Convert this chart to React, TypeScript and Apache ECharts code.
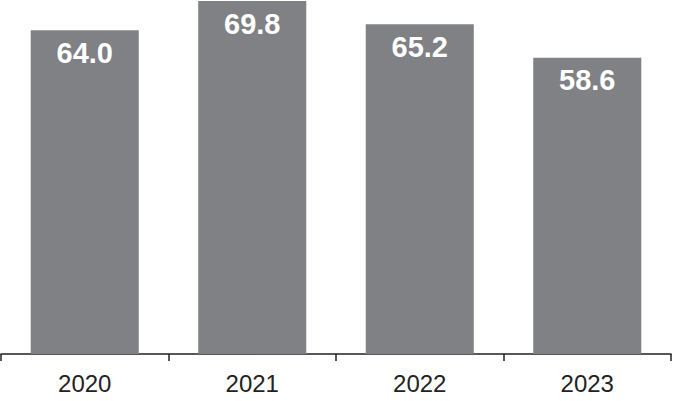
import React, { useEffect, useRef } from "react";
import * as echarts from "echarts";

const categories = ["2020", "2021", "2022", "2023"];
const values = [64.0, 69.8, 65.2, 58.6];

export default function App() {
  const ref = useRef<HTMLDivElement>(null);
  useEffect(() => {
    if (!ref.current) return;
    const chart = echarts.init(ref.current, null, { renderer: "svg" });
    chart.setOption({
      animation: false,
      grid: { left: 1, right: 2, top: 0, bottom: 47, containLabel: false },
      xAxis: {
        type: "category",
        data: categories,
        axisLine: { lineStyle: { color: "#222", width: 1.5 } },
        axisTick: { show: true, length: 7, lineStyle: { color: "#222", width: 1.5 } },
        axisLabel: {
          color: "#222",
          fontSize: 24,
          fontFamily: "Liberation Sans, Arial, sans-serif",
          margin: 17,
        },
      },
      yAxis: { type: "value", min: 0, max: 70, show: false, splitLine: { show: false } },
      series: [
        {
          type: "bar",
          data: values,
          barCategoryGap: "35.5%",
          itemStyle: { color: "#808184" },
          label: {
            show: true,
            position: "insideTop",
            distance: 8,
            color: "#fff",
            fontWeight: "bold",
            fontSize: 29,
            fontFamily: "Liberation Sans, Arial, sans-serif",
            formatter: (p: any) => Number(p.value).toFixed(1),
          },
        },
      ],
    });
    return () => chart.dispose();
  }, []);
  return (
    <div
      ref={ref}
      style={{ width: 673, height: 401, position: "absolute", left: 0, top: 0 }}
    />
  );
}
